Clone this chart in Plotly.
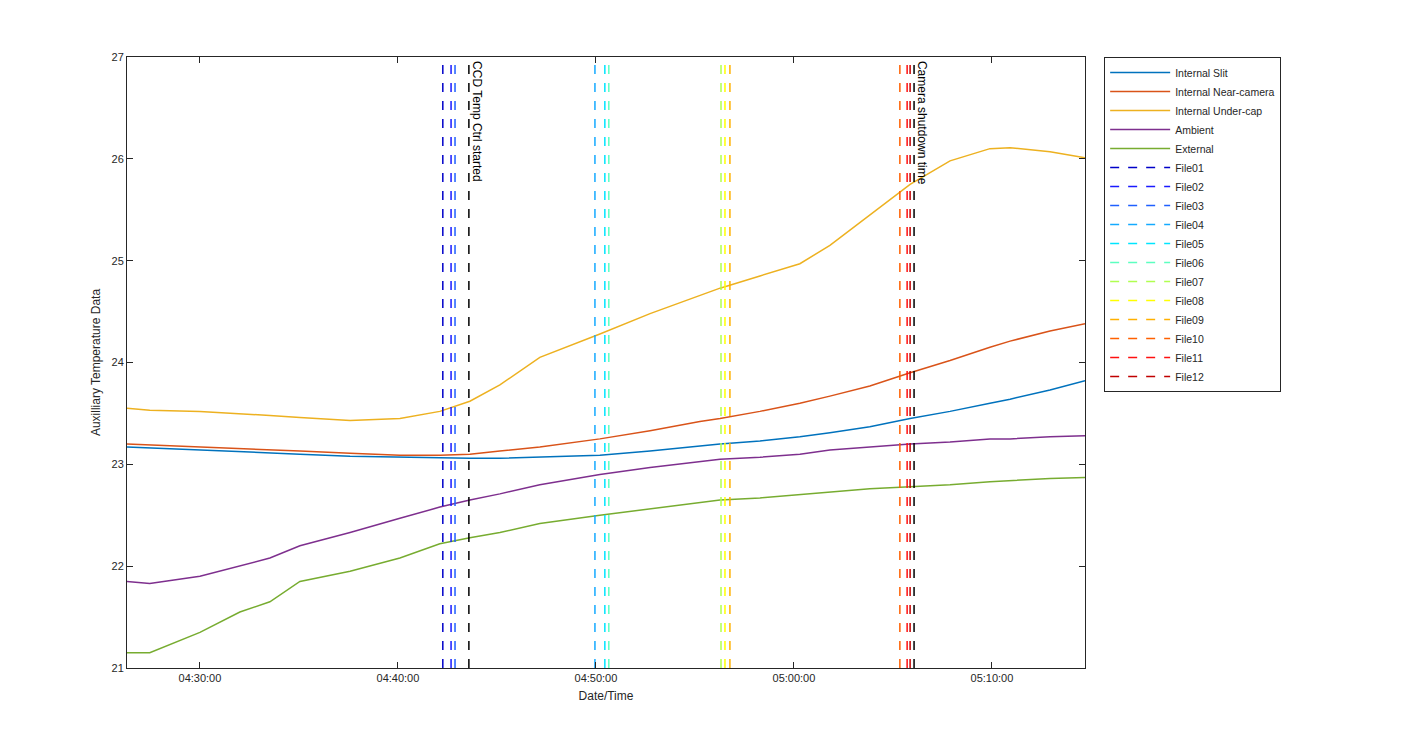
import plotly.graph_objects as go

times = ['2016-01-01 ' + t for t in [
    '04:26:19', '04:27:28', '04:30:00', '04:32:01', '04:33:32', '04:35:03', '04:37:35',
    '04:40:06', '04:42:07', '04:43:38', '04:45:09', '04:47:10', '04:50:12', '04:52:44',
    '04:55:15', '04:56:16', '04:58:17', '05:00:18', '05:01:49', '05:03:50', '05:05:52',
    '05:07:53', '05:09:54', '05:10:55', '05:12:56', '05:14:42']]

slit = [23.17, 23.16, 23.14, 23.12, 23.11, 23.1, 23.08, 23.07, 23.06, 23.06, 23.06, 23.07, 23.09,
        23.13, 23.18, 23.2, 23.23, 23.27, 23.31, 23.37, 23.45, 23.52, 23.6, 23.64, 23.73, 23.82]
near = [23.2, 23.19, 23.17, 23.15, 23.14, 23.13, 23.11, 23.09, 23.09, 23.1, 23.13, 23.17, 23.25,
        23.33, 23.42, 23.45, 23.52, 23.6, 23.67, 23.77, 23.9, 24.02, 24.15, 24.21, 24.31, 24.38]
undercap = [23.55, 23.53, 23.52, 23.5, 23.48, 23.46, 23.43, 23.45, 23.52, 23.62, 23.78, 24.05, 24.28,
            24.48, 24.66, 24.73, 24.85, 24.97, 25.15, 25.45, 25.75, 25.98, 26.1, 26.11, 26.07, 26.01]
ambient = [21.85, 21.83, 21.9, 22.0, 22.08, 22.2, 22.33, 22.47, 22.58, 22.65, 22.71, 22.8, 22.9,
           22.97, 23.03, 23.05, 23.07, 23.1, 23.14, 23.17, 23.2, 23.22, 23.25, 23.25, 23.27, 23.28]
external = [21.15, 21.15, 21.35, 21.55, 21.65, 21.85, 21.95, 22.08, 22.22, 22.28, 22.33, 22.42, 22.5,
            22.56, 22.62, 22.65, 22.67, 22.7, 22.73, 22.76, 22.78, 22.8, 22.83, 22.84, 22.86, 22.87]

series = [('Internal Slit', slit, '#0072bd'), ('Internal Near-camera', near, '#d95319'),
          ('Internal Under-cap', undercap, '#edb120'), ('Ambient', ambient, '#7e2f8e'),
          ('External', external, '#77ac30')]

file_names = ['File%02d' % i for i in range(1, 13)]
file_times = ['04:42:16', '04:42:41', '04:42:53', '04:49:57', '04:50:27', '04:50:39',
              '04:56:19', '04:56:31', '04:56:46', '05:05:21', '05:05:43', '05:05:52']
file_colors = ['#0000c8', '#1a1aff', '#1f5fff', '#14aaff', '#00e5ff', '#5cffc0',
               '#b0ff50', '#ffff00', '#ffb000', '#ff6000', '#ff1010', '#c00000']
events = [('04:43:35', 'CCD Temp Ctrl started'), ('05:06:04', 'Camera shutdown time')]

fig = go.Figure()
for name, vals, col in series:
    fig.add_trace(go.Scatter(x=times, y=vals, name=name, mode='lines', line=dict(color=col, width=1.5)))
for name, t, col in zip(file_names, file_times, file_colors):
    fig.add_trace(go.Scatter(x=['2016-01-01 ' + t] * 2, y=[21, 27], name=name, mode='lines',
                             line=dict(color=col, width=1.5, dash='dash')))
for t, label in events:
    fig.add_trace(go.Scatter(x=['2016-01-01 ' + t] * 2, y=[21, 27], mode='lines', showlegend=False,
                             line=dict(color='black', width=1.5, dash='dash')))
    fig.add_annotation(x='2016-01-01 ' + t, y=27, text=label, textangle=90, showarrow=False,
                       xanchor='left', yanchor='top', xshift=-1, yshift=-2,
                       font=dict(size=12, color='black'))

axis = dict(showline=True, linecolor='#262626', mirror='ticks', ticks='inside', ticklen=6,
            tickcolor='#262626', showgrid=False, zeroline=False, tickfont=dict(size=11, color='#262626'))
fig.update_layout(
    width=1425, height=750, plot_bgcolor='white', paper_bgcolor='white',
    font=dict(family='Liberation Sans, Arial', size=11, color='#262626'),
    margin=dict(l=119, r=348, t=49, b=90),
    xaxis=dict(axis, range=['2016-01-01 04:26:19', '2016-01-01 05:14:42'], tickformat='%H:%M:%S',
               dtick=600000, tick0='2016-01-01 04:30:00',
               title=dict(text='Date/Time', font=dict(size=12), standoff=8)),
    yaxis=dict(axis, range=[21, 27], dtick=1,
               title=dict(text='Auxilliary Temperature Data', font=dict(size=12), standoff=8)),
    legend=dict(x=1.02, y=1, xanchor='left', yanchor='top', bordercolor='#262626', borderwidth=1,
                font=dict(size=10.5), tracegroupgap=0, itemwidth=60),
)
fig.write_html('out.html')
